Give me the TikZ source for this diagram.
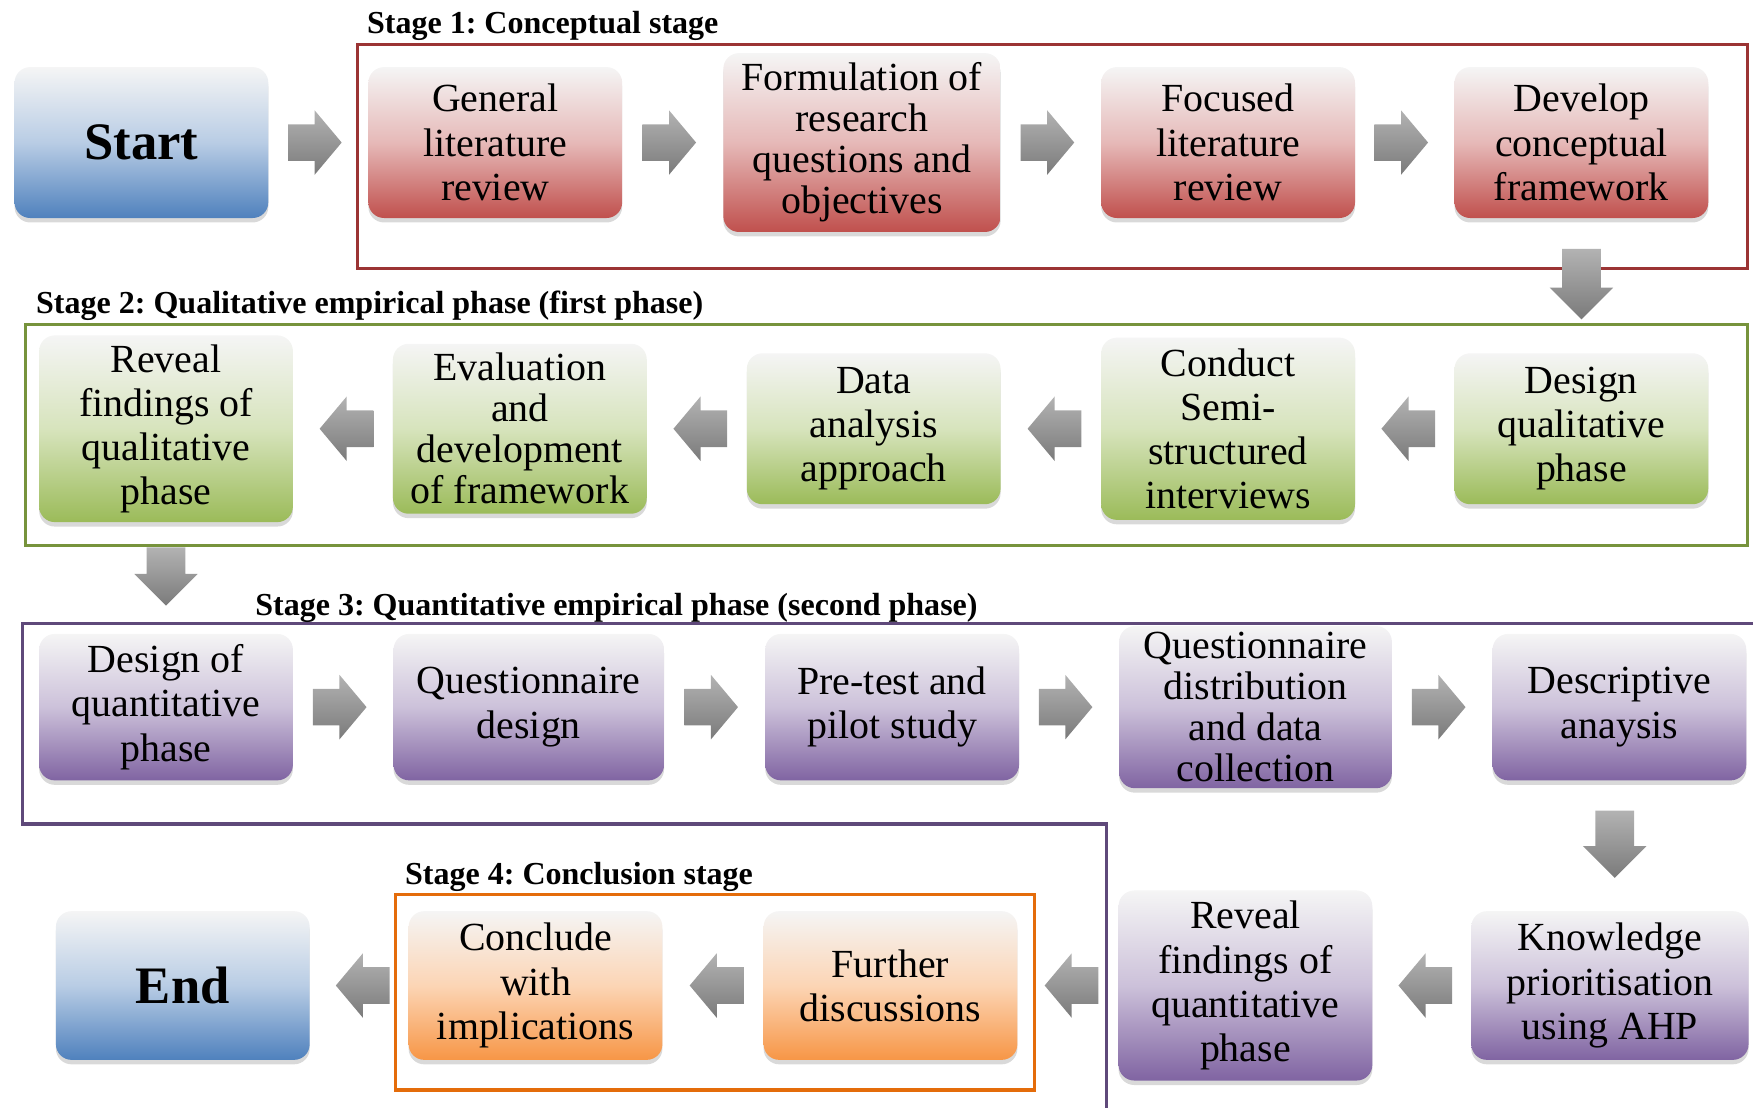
\documentclass[tikz,border=0pt]{standalone}
\usepackage{fontspec}
\setmainfont{Liberation Serif}
\usetikzlibrary{shapes.arrows,calc,shadows}
\definecolor{stblue}{RGB}{79,129,189}
\definecolor{stred}{RGB}{192,80,77}
\definecolor{stgreen}{RGB}{155,187,89}
\definecolor{stpurple}{RGB}{128,100,162}
\definecolor{storange}{RGB}{247,150,70}
\definecolor{frred}{RGB}{155,52,52}
\definecolor{frgreen}{RGB}{119,147,60}
\definecolor{frpurple}{RGB}{95,73,122}
\definecolor{frorange}{RGB}{228,108,10}
\frenchspacing

\begin{document}
\begin{tikzpicture}[
  box/.style={rectangle, rounded corners=0.28cm, minimum width=4.54cm, minimum height=2.7cm, inner sep=0pt, align=center, font=\fontsize{20.3}{22.5}\selectfont, drop shadow={shadow xshift=0pt, shadow yshift=-0.08cm, opacity=0.3}},
  tight/.style={font=\fontsize{20.3}{20.9}\selectfont},
  big/.style={font=\fontsize{26.8}{30}\selectfont\bfseries},
  bluebox/.style={box, top color=white!96!black, bottom color=stblue, middle color=stblue!40!white},
  redbox/.style={box, top color=white!96!black, bottom color=stred, middle color=stred!40!white},
  greenbox/.style={box, top color=white!96!black, bottom color=stgreen, middle color=stgreen!40!white},
  purplebox/.style={box, top color=white!96!black, bottom color=stpurple, middle color=stpurple!40!white},
  orangebox/.style={box, top color=white!96!black, bottom color=storange, middle color=storange!40!white},
  fatarrow/.style={single arrow, minimum height=0.96cm, minimum width=1.14cm, single arrow head extend=0.25cm, single arrow tip angle=100, inner xsep=0pt, inner ysep=0.32cm, top color=black!30, bottom color=black!52},
  rarr/.style={fatarrow, xshift=-0.2cm},
  larr/.style={fatarrow, shape border rotate=180, xshift=0.2cm},
  darr/.style={fatarrow, shape border rotate=270, minimum width=1.12cm, single arrow head extend=0.22cm, single arrow tip angle=90, inner sep=0.34cm, yshift=0.2cm},
  frame/.style={line width=1.6pt},
  stage/.style={anchor=west, inner sep=0pt, font=\fontsize{16.3}{18}\selectfont\bfseries}
]
\useasboundingbox (0,0) rectangle (31.36,19.82);

% Stage frames
\draw[frame, frred] (6.40,19.02) rectangle (31.26,15.02);
\draw[frame, frgreen] (0.46,14.02) rectangle (31.26,10.06);
\draw[frame, frpurple] (31.36,8.66) -- (0.40,8.66) -- (0.40,5.08) -- (19.80,5.08) -- (19.80,0);
\draw[frame, frorange] (7.08,3.82) rectangle (18.50,0.32);

\node[stage] (lab1) at (6.56,19.35) {Stage 1: Conceptual stage};
\node[stage] (lab2) at (0.64,14.35) {Stage 2: Qualitative empirical phase (first phase)};
\node[stage] (lab3) at (4.56,8.95) {Stage 3: Quantitative empirical phase (second phase)};
\node[stage] (lab4) at (7.24,4.13) {Stage 4: Conclusion stage};

% Stage 1
\node[bluebox, big] (start) at (2.53,17.27) {Start};
\node[redbox] (genlit) at (8.86,17.27) {General\\literature\\review};
\node[redbox, tight, minimum width=4.96cm, minimum height=3.2cm] (formul) at (15.42,17.27) {Formulation of\\research\\questions and\\objectives};
\node[redbox] (foclit) at (21.97,17.27) {Focused\\literature\\review};
\node[redbox] (develop) at (28.29,17.27) {Develop\\conceptual\\framework};

% Stage 2
\node[greenbox] (desqual) at (28.29,12.15) {Design\\qualitative\\phase};
\node[greenbox, minimum height=3.26cm] (conduct) at (21.97,12.15) {Conduct\\Semi-\\structured\\interviews};
\node[greenbox] (analysis) at (15.63,12.15) {Data\\analysis\\approach};
\node[greenbox, tight, minimum height=3.04cm] (evalfw) at (9.30,12.15) {Evaluation\\and\\development\\of framework};
\node[greenbox, minimum height=3.34cm] (revqual) at (2.97,12.15) {Reveal\\findings of\\qualitative\\phase};

% Stage 3
\node[purplebox, minimum height=2.62cm] (desquan) at (2.97,7.17) {Design of\\quantitative\\phase};
\node[purplebox, minimum width=4.84cm, minimum height=2.62cm] (qdesign) at (9.46,7.17) {Questionnaire\\design};
\node[purplebox, minimum height=2.62cm] (pilot) at (15.96,7.17) {Pre-test and\\pilot study};
\node[purplebox, tight, minimum width=4.88cm, minimum height=2.9cm] (qdist) at (22.46,7.17) {Questionnaire\\distribution\\and data\\collection};
\node[purplebox, minimum height=2.62cm] (descr) at (28.97,7.17) {Descriptive\\anaysis};
\node[purplebox, minimum width=4.96cm, minimum height=2.66cm] (ahp) at (28.80,2.19) {Knowledge\\prioritisation\\using AHP};
\node[purplebox, minimum height=3.4cm] (revquan) at (22.28,2.19) {Reveal\\findings of\\quantitative\\phase};

% Stage 4
\node[orangebox, minimum height=2.66cm] (further) at (15.93,2.19) {Further\\discussions};
\node[orangebox, minimum height=2.66cm] (conclude) at (9.58,2.19) {Conclude\\with\\implications};
\node[bluebox, big, minimum height=2.66cm] (finish) at (3.27,2.19) {End};

% Block arrows
\node[rarr] (a1) at ($(start.east)!0.5!(genlit.west)$) {};
\node[rarr] (a2) at ($(genlit.east)!0.5!(formul.west)$) {};
\node[rarr] (a3) at ($(formul.east)!0.5!(foclit.west)$) {};
\node[rarr] (a4) at ($(foclit.east)!0.5!(develop.west)$) {};
\node[darr, minimum height=1.26cm] (d1) at ($(develop.south)!0.5!(desqual.north)$) {};
\node[larr] (b1) at ($(desqual.west)!0.5!(conduct.east)$) {};
\node[larr] (b2) at ($(conduct.west)!0.5!(analysis.east)$) {};
\node[larr] (b3) at ($(analysis.west)!0.5!(evalfw.east)$) {};
\node[larr] (b4) at ($(evalfw.west)!0.5!(revqual.east)$) {};
\node[darr, minimum height=1.0cm] (d2) at ($(revqual.south)!0.5!(desquan.north)$) {};
\node[rarr] (c1) at ($(desquan.east)!0.5!(qdesign.west)$) {};
\node[rarr] (c2) at ($(qdesign.east)!0.5!(pilot.west)$) {};
\node[rarr] (c3) at ($(pilot.east)!0.5!(qdist.west)$) {};
\node[rarr] (c4) at ($(qdist.east)!0.5!(descr.west)$) {};
\node[darr, minimum height=1.2cm] (d3) at ($(descr.south)!0.5!(ahp.north)$) {};
\node[larr] (e1) at ($(ahp.west)!0.5!(revquan.east)$) {};
\node[larr] (e2) at ($(revquan.west)!0.5!(further.east)$) {};
\node[larr] (e3) at ($(further.west)!0.5!(conclude.east)$) {};
\node[larr] (e4) at ($(conclude.west)!0.5!(finish.east)$) {};

\end{tikzpicture}
\end{document}
